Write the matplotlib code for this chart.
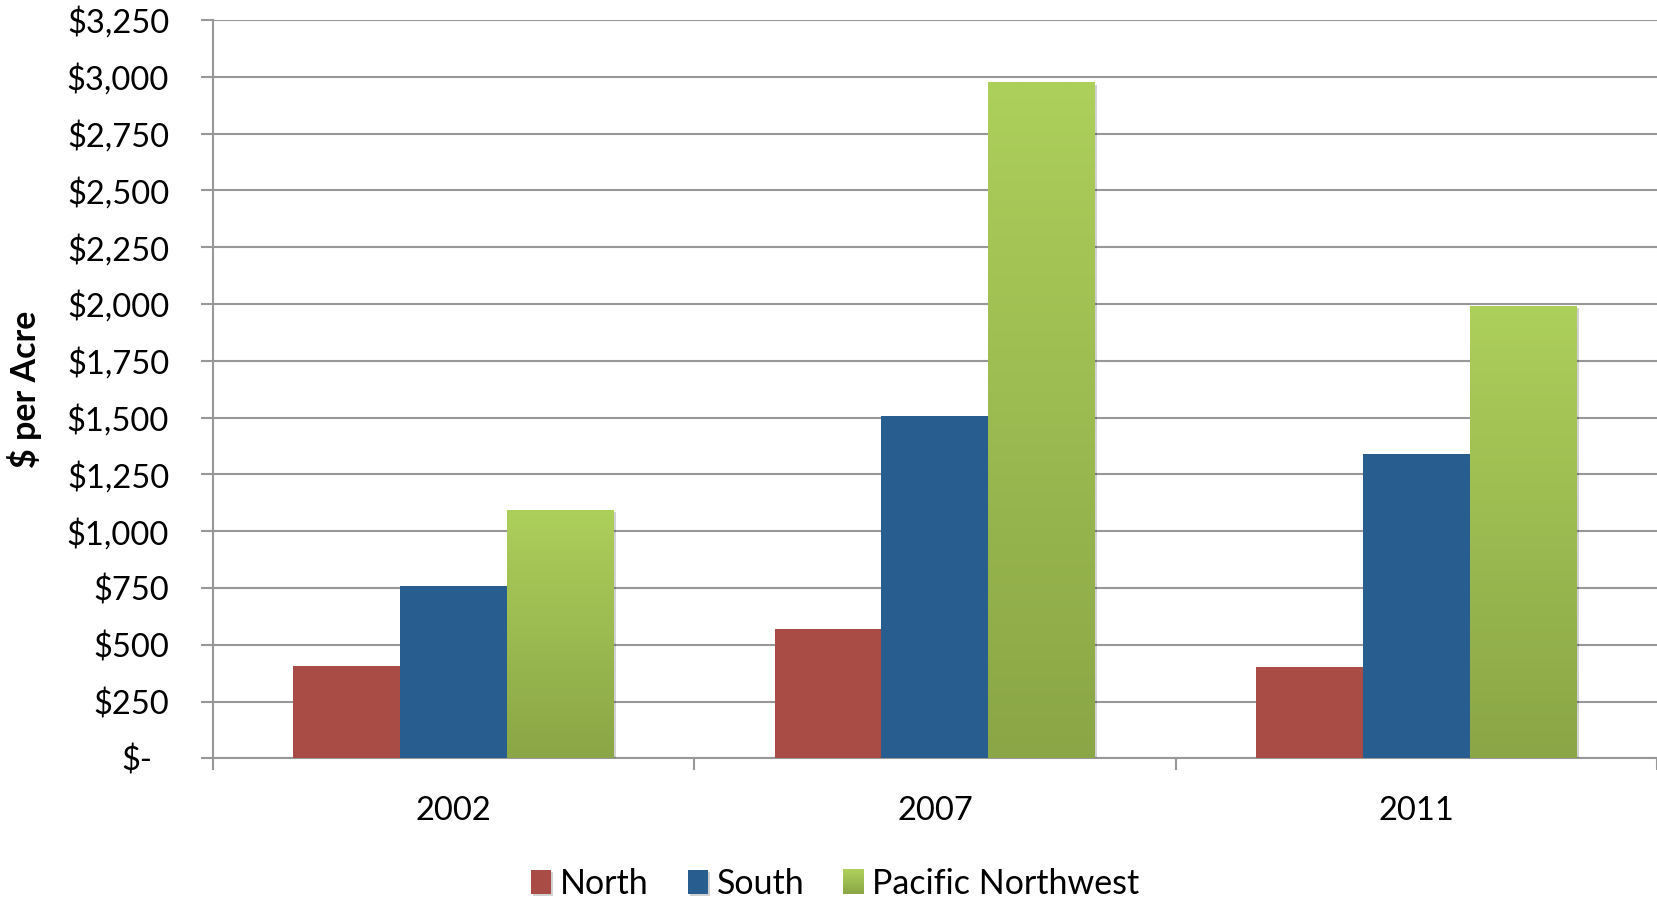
import numpy as np
import matplotlib
matplotlib.use("Agg")
import matplotlib.pyplot as plt
from matplotlib.colors import LinearSegmentedColormap, to_rgb
from matplotlib.patches import Rectangle
from matplotlib.legend_handler import HandlerBase
from matplotlib import patheffects as pe
from matplotlib.transforms import ScaledTranslation

# ---- data -------------------------------------------------------------
years = ["2002", "2007", "2011"]
series_names = ["North", "South", "Pacific Northwest"]
north = [405, 570, 400]
south = [760, 1505, 1340]
pacific_nw = [1095, 2975, 1990]
y_ticks = [0, 250, 500, 750, 1000, 1250, 1500, 1750, 2000, 2250, 2500, 2750, 3000, 3250]

# ---- styling ----------------------------------------------------------
plt.rcParams["font.family"] = ["Lato", "DejaVu Sans"]
FS = 23.5
RED = "#A84C45"
BLUE = "#275D8F"
GREEN_TOP = "#ADCF5B"
GREEN_BOT = "#8AA646"
GRID = "#989898"

fig = plt.figure(figsize=(16.57, 8.98), dpi=100)
ax = fig.add_axes([0.1284, 0.1555, 1.0 - 0.1284, 0.9777 - 0.1555])

x = np.arange(len(years))
w = 0.222
shadow = [pe.SimplePatchShadow(offset=(1.5, -1.5), shadow_rgbFace="#000000", alpha=0.18), pe.Normal()]

b1 = ax.bar(x - w, north, w, color=RED, zorder=3, path_effects=shadow)
b2 = ax.bar(x, south, w, color=BLUE, zorder=3, path_effects=shadow)
b3 = ax.bar(x + w, pacific_nw, w, color=GREEN_BOT, zorder=3, path_effects=shadow)

# vertical gradient fill for the Pacific Northwest bars
green_cmap = LinearSegmentedColormap.from_list("pnw", [GREEN_BOT, GREEN_TOP])
grad = np.linspace(0, 1, 256).reshape(-1, 1)
for bar in b3:
    x0 = bar.get_x()
    x1 = x0 + bar.get_width()
    h = bar.get_height()
    im = ax.imshow(grad, extent=[x0, x1, 0, h], origin="lower", aspect="auto",
                   cmap=green_cmap, zorder=3.5, interpolation="bilinear")
    im.set_clip_path(bar)

ax.set_xlim(-0.5, 2.5)
ax.set_ylim(0, 3250)

# y axis
ax.set_yticks(y_ticks)
ax.set_yticklabels(["$-" if v == 0 else f"${v:,.0f}" for v in y_ticks])
ax.tick_params(axis="y", which="major", direction="out", length=8.4, width=1.5,
               color=GRID, labelsize=FS, pad=23)
ax.yaxis.grid(True, color=GRID, linewidth=1.5, zorder=0)
ax.set_axisbelow(True)
zero_lbl = ax.get_yticklabels()[0]
zero_lbl.set_transform(zero_lbl.get_transform() + ScaledTranslation(-0.17, 0, fig.dpi_scale_trans))

# x axis: labels at the group centres, ticks between groups
ax.set_xticks(x)
ax.set_xticklabels(years)
ax.set_xticks([-0.5, 0.5, 1.5, 2.5], minor=True)
ax.tick_params(axis="x", which="major", length=0, labelsize=FS, pad=27)
ax.tick_params(axis="x", which="minor", direction="out", length=8.4, width=1.5, color=GRID)

for s in ("top", "right"):
    ax.spines[s].set_visible(False)
for s in ("left", "bottom"):
    ax.spines[s].set_color(GRID)
    ax.spines[s].set_linewidth(1.5)

ax.set_ylabel("$ per Acre", fontsize=24.5, fontweight="bold")
ax_w_px = ax.get_position().width * fig.get_figwidth() * fig.dpi
ax.yaxis.set_label_coords((42 - 0.1284 * fig.get_figwidth() * fig.dpi) / ax_w_px, 0.5)


class GradientHandler(HandlerBase):
    def create_artists(self, legend, orig_handle, xdescent, ydescent, width, height, fontsize, trans):
        n = 24
        c0 = np.array(to_rgb(GREEN_BOT))
        c1 = np.array(to_rgb(GREEN_TOP))
        arts = []
        for i in range(n):
            t = i / (n - 1)
            arts.append(Rectangle((xdescent, ydescent + height * i / n), width, height / n + 0.3,
                                  facecolor=c0 * (1 - t) + c1 * t, edgecolor="none", transform=trans))
        return arts


leg = fig.legend([b1, b2, b3[0]], series_names, loc="center", bbox_to_anchor=(0.504, 0.016),
                 ncol=3, frameon=False, fontsize=24.5, handlelength=0.6, handleheight=0.7,
                 handletextpad=0.25, columnspacing=1.15,
                 handler_map={b3[0]: GradientHandler()})

fig.savefig("out.png", dpi=100)
